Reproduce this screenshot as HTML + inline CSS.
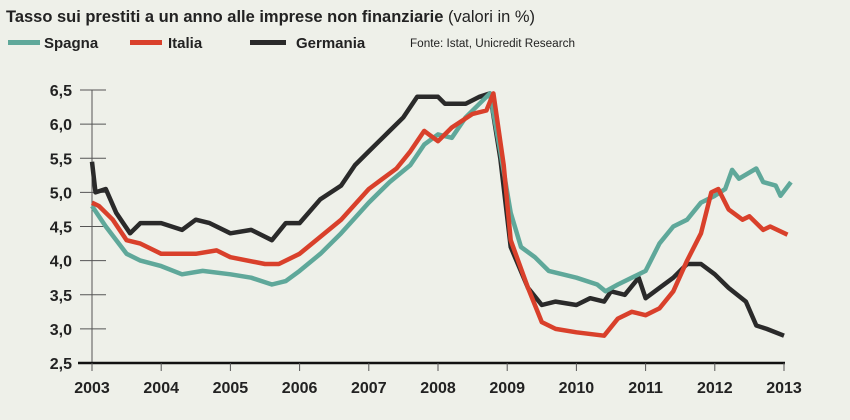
<!DOCTYPE html>
<html><head><meta charset="utf-8">
<style>
html,body{margin:0;padding:0;background:#eef0e9;}
body{width:850px;height:420px;overflow:hidden;font-family:"Liberation Sans",sans-serif;}
</style></head>
<body>
<svg id="c" width="850" height="420" xmlns="http://www.w3.org/2000/svg" style="position:absolute;left:0;top:0">
<rect width="850" height="420" fill="#eef0e9"/>
<text x="6" y="22" font-size="16.5" font-weight="bold" fill="#222" textLength="529" lengthAdjust="spacingAndGlyphs">Tasso sui prestiti a un anno alle imprese non finanziarie <tspan font-weight="normal">(valori in %)</tspan></text>
<rect x="8" y="40" width="32" height="5" fill="#5fa89a"/>
<text x="44" y="48" font-size="15" font-weight="bold" fill="#222">Spagna</text>
<rect x="130" y="40" width="32" height="5" fill="#d9402b"/>
<text x="168" y="48" font-size="15" font-weight="bold" fill="#222">Italia</text>
<rect x="250" y="40" width="36" height="5" fill="#2a2a2a"/>
<text x="296" y="48" font-size="15" font-weight="bold" fill="#222">Germania</text>
<text x="410" y="47" font-size="11.5" fill="#222" textLength="165" lengthAdjust="spacingAndGlyphs">Fonte: Istat, Unicredit Research</text>
<g id="axes"></g>
<g id="series"></g>
</svg>
<script>
var X=function(t){return 92+(t-2003)*69.2;};
var Y=function(v){return 363-(v-2.5)*68.25;};
var ax='';
ax+='<line x1="92" y1="90" x2="92" y2="370" stroke="#555" stroke-width="1"/>';
var labs=['2,5','3,0','3,5','4,0','4,5','5,0','5,5','6,0','6,5'];
for(var i=0;i<9;i++){var v=2.5+i*0.5,y=Y(v);
 if(i>0)ax+='<line x1="80" y1="'+y+'" x2="106" y2="'+y+'" stroke="#555" stroke-width="1"/>';
 ax+='<text x="72" y="'+(y+6)+'" font-size="16" font-weight="bold" text-anchor="end" fill="#222">'+labs[i]+'</text>';}
ax+='<line x1="78" y1="363" x2="785" y2="363" stroke="#111" stroke-width="2.5"/>';
for(var yr=2003;yr<=2013;yr++){var x=X(yr);
 ax+='<line x1="'+x+'" y1="363" x2="'+x+'" y2="371" stroke="#555" stroke-width="1"/>';
 ax+='<text x="'+x+'" y="393" font-size="16" font-weight="bold" text-anchor="middle" fill="#222">'+yr+'</text>';}
document.getElementById('axes').innerHTML=ax;
var S={
sp:[[2003,4.8],[2003.2,4.5],[2003.5,4.1],[2003.7,4.0],[2004,3.92],[2004.3,3.8],[2004.6,3.85],[2005,3.8],[2005.3,3.75],[2005.6,3.65],[2005.8,3.7],[2006,3.85],[2006.3,4.1],[2006.6,4.4],[2007,4.85],[2007.3,5.15],[2007.6,5.4],[2007.8,5.7],[2008,5.85],[2008.2,5.8],[2008.4,6.1],[2008.6,6.3],[2008.75,6.45],[2008.9,5.6],[2009.05,4.7],[2009.2,4.2],[2009.4,4.05],[2009.6,3.85],[2009.8,3.8],[2010,3.75],[2010.3,3.65],[2010.42,3.55],[2010.6,3.65],[2010.8,3.75],[2011.0,3.85],[2011.2,4.25],[2011.4,4.5],[2011.6,4.6],[2011.8,4.85],[2012,4.95],[2012.15,5.05],[2012.25,5.33],[2012.35,5.2],[2012.6,5.35],[2012.7,5.15],[2012.88,5.1],[2012.95,4.95],[2013.1,5.15]],
it:[[2003,4.85],[2003.1,4.8],[2003.3,4.6],[2003.5,4.3],[2003.7,4.25],[2004,4.1],[2004.3,4.1],[2004.5,4.1],[2004.8,4.15],[2005,4.05],[2005.5,3.95],[2005.7,3.95],[2006,4.1],[2006.3,4.35],[2006.6,4.6],[2007,5.05],[2007.4,5.35],[2007.6,5.6],[2007.8,5.9],[2008,5.75],[2008.2,5.95],[2008.5,6.15],[2008.7,6.2],[2008.8,6.45],[2008.95,5.4],[2009.05,4.3],[2009.3,3.6],[2009.5,3.1],[2009.7,3.0],[2010,2.95],[2010.4,2.9],[2010.6,3.15],[2010.8,3.25],[2011,3.2],[2011.2,3.3],[2011.4,3.55],[2011.6,4.0],[2011.8,4.4],[2011.95,5.0],[2012.05,5.05],[2012.2,4.75],[2012.4,4.6],[2012.5,4.65],[2012.7,4.45],[2012.8,4.5],[2013.05,4.38]],
de:[[2003,5.45],[2003.05,5.0],[2003.2,5.05],[2003.35,4.7],[2003.55,4.4],[2003.7,4.55],[2004,4.55],[2004.3,4.45],[2004.5,4.6],[2004.7,4.55],[2005,4.4],[2005.3,4.45],[2005.6,4.3],[2005.8,4.55],[2006,4.55],[2006.3,4.9],[2006.6,5.1],[2006.8,5.4],[2007.0,5.6],[2007.3,5.9],[2007.5,6.1],[2007.7,6.4],[2008,6.4],[2008.1,6.3],[2008.4,6.3],[2008.6,6.4],[2008.75,6.45],[2008.9,5.5],[2009.05,4.2],[2009.3,3.6],[2009.5,3.35],[2009.7,3.4],[2010,3.35],[2010.2,3.45],[2010.4,3.4],[2010.5,3.55],[2010.7,3.5],[2010.9,3.75],[2011.0,3.45],[2011.2,3.6],[2011.4,3.75],[2011.6,3.95],[2011.8,3.95],[2012,3.8],[2012.2,3.6],[2012.45,3.4],[2012.6,3.05],[2012.75,3.0],[2013,2.9]]};
function pl(d,c){return '<polyline fill="none" stroke="'+c+'" stroke-width="4.5" stroke-linejoin="round" points="'+d.map(function(p){return X(p[0]).toFixed(1)+','+Y(p[1]).toFixed(1);}).join(' ')+'"/>';}
document.getElementById('series').innerHTML=pl(S.de,'#2a2a2a')+pl(S.sp,'#5fa89a')+pl(S.it,'#d9402b');
</script>
</body></html>
